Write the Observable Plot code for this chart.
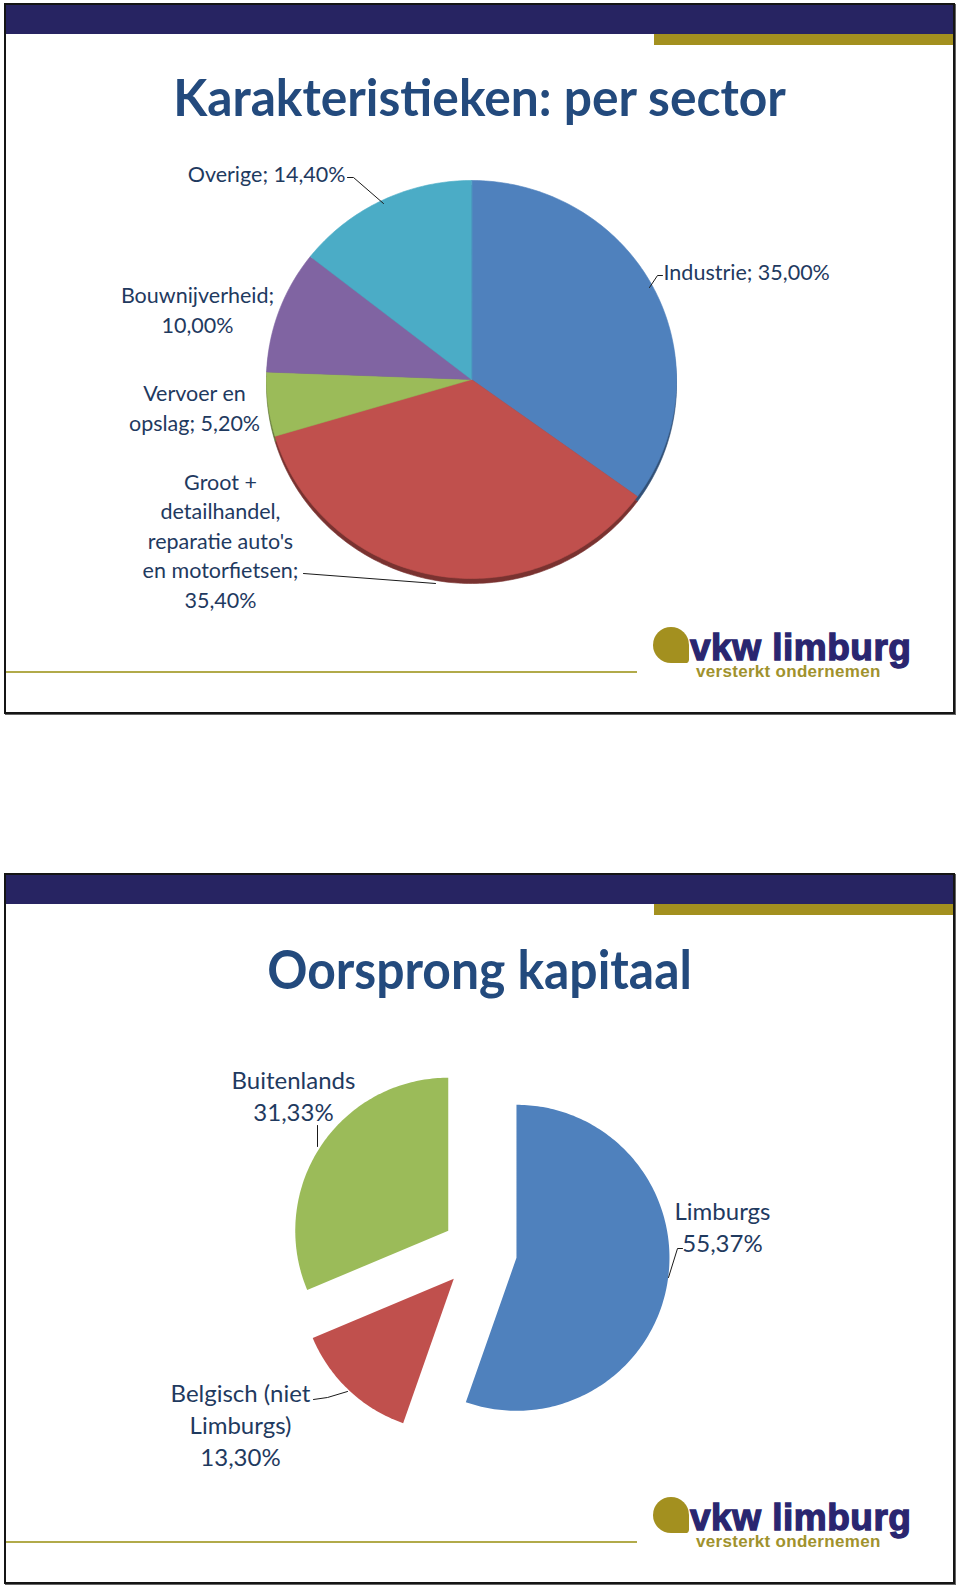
<!DOCTYPE html>
<html lang="nl">
<head>
<meta charset="utf-8">
<title>Karakteristieken: per sector / Oorsprong kapitaal</title>
<script src="https://cdn.jsdelivr.net/npm/d3@7"></script>
<script src="https://cdn.jsdelivr.net/npm/@observablehq/plot@0.6"></script>
<style>
html,body{margin:0;padding:0;background:#fff;}
#page{position:relative;width:960px;height:1589px;overflow:hidden;}
.slide{position:absolute;left:4px;width:951px;height:711px;border:2px solid #151515;box-sizing:border-box;box-shadow:1px 1px 0 #666;background:#fff;}
.band{position:absolute;left:0;top:0;width:100%;height:29px;background:#272462;}
.gold{position:absolute;left:648px;right:0;top:29px;height:11px;background:#A3901F;}
.title{position:absolute;left:0;width:100%;text-align:center;font-family:Lato,sans-serif;font-weight:700;color:#234A7D;line-height:1;white-space:nowrap;transform-origin:50% 50%;}
.rule{position:absolute;left:0;width:631px;top:666px;height:2px;background:#B1AA4A;}
.blob{position:absolute;left:647px;top:622px;width:36px;height:36px;background:#A3901F;border-radius:50% 50% 10% 50%;}
.brand{position:absolute;left:684px;top:627.7px;font-family:"Liberation Sans",Arial,sans-serif;font-weight:700;font-size:37px;line-height:0.8;color:#2A2670;letter-spacing:0.5px;-webkit-text-stroke:1.3px #2A2670;white-space:nowrap;}
.tag{position:absolute;left:690px;top:659.7px;font-family:"Liberation Sans",Arial,sans-serif;font-weight:700;font-size:17px;line-height:0.8;color:#A0922D;letter-spacing:0.3px;white-space:nowrap;}
#page svg{position:absolute;left:0;top:0;}
</style>
</head>
<body>
<div id="page">
  <div class="slide" style="top:3px">
    <div class="band"></div><div class="gold"></div>
    <div class="title" style="top:66px;font-size:51px;transform:scaleX(0.975)">Karakteristieken: per sector</div>
    <div class="rule"></div>
    <div class="blob"></div>
    <div class="brand">vkw limburg</div>
    <div class="tag">versterkt ondernemen</div>
  </div>
  <div class="slide" style="top:873px">
    <div class="band"></div><div class="gold"></div>
    <div class="title" style="top:67px;font-size:53px;transform:scaleX(0.94)">Oorsprong kapitaal</div>
    <div class="rule"></div>
    <div class="blob"></div>
    <div class="brand">vkw limburg</div>
    <div class="tag">versterkt ondernemen</div>
  </div>
</div>
<script>
// ---------------- data ----------------
const sectors = ["Industrie", "Groot + detailhandel, reparatie auto's en motorfietsen", "Vervoer en opslag", "Bouwnijverheid", "Overige"];
const sectorShares = [35.00, 35.40, 5.20, 10.00, 14.40];
const sectorLabelLines = [
  ["Industrie; 35,00%"],
  ["Groot +", "detailhandel,", "reparatie auto's", "en motorfietsen;", "35,40%"],
  ["Vervoer en", "opslag; 5,20%"],
  ["Bouwnijverheid;", "10,00%"],
  ["Overige; 14,40%"]
];

const origins = ["Limburgs", "Belgisch (niet Limburgs)", "Buitenlands"];
const originShares = [55.37, 13.30, 31.33];
const originLabelLines = [
  ["Limburgs", "55,37%"],
  ["Belgisch (niet", "Limburgs)", "13,30%"],
  ["Buitenlands", "31,33%"]
];

// ---------------- style / layout ----------------
const sectorColors = ["#4F81BD", "#C0504D", "#9BBB59", "#8064A2", "#4BACC6"];
const originColors = ["#4F81BD", "#C0504D", "#9BBB59"];
const labelColor = "#1F3A5F";

const pie1 = {id: "s", cx: 471, cy: 379, rx: 205, ry: 199, explode: 0, depth: 5};
const pie2 = {id: "o", cx: 479, cy: 1251, rx: 153, ry: 153, explode: 37.5, depth: 0};

// label placement relative to pie centre (px)
const sectorLabelLayout = [
  {anchor: "start",  dx: 192,  dy: -109, leader: [[191, -104], [186, -104], [178, -92]]},
  {anchor: "middle", dx: -251, dy: 160,  leader: [[-168, 194], [-36, 204]]},
  {anchor: "middle", dx: -277, dy: 27,   leader: null},
  {anchor: "middle", dx: -274, dy: -71,  leader: null},
  {anchor: "end",    dx: -126, dy: -207, leader: [[-124, -202], [-118, -202], [-88, -176]]}
];
const originLabelLayout = [
  {anchor: "middle", dx: 243,  dy: -26, leader: [[203, -3], [198, -3], [189, 26]]},
  {anchor: "middle", dx: -239, dy: 172, leader: [[-166, 148], [-152, 146], [-132, 140]]},
  {anchor: "middle", dx: -186, dy: -157, leader: [[-162, -126], [-162, -105]]}
];

// ---------------- geometry from data ----------------
function sliceRows(shares, colors, g, shadow) {
  const total = d3.sum(shares);
  const rows = [];
  let acc = 0;
  shares.forEach((v, i) => {
    const a0 = acc / total * 2 * Math.PI;
    acc += v;
    const a1 = acc / total * 2 * Math.PI;
    const am = (a0 + a1) / 2;
    const ox = g.cx + g.explode * Math.sin(am);
    const oy = g.cy - g.explode * Math.cos(am) + (shadow ? g.depth : 0);
    const fill = shadow ? d3.color(colors[i]).darker(1.3).formatHex() : colors[i];
    const key = g.id + (shadow ? "sh" : "") + i;
    const n = Math.max(2, Math.ceil((a1 - a0) * 180 / Math.PI));
    rows.push({key, x: ox, y: oy, fill});
    for (let j = 0; j <= n; ++j) {
      const a = a0 + (a1 - a0) * j / n;
      rows.push({key, x: ox + g.rx * Math.sin(a), y: oy - g.ry * Math.cos(a), fill});
    }
  });
  return rows;
}

function labelRows(lines, layout, g) {
  return lines.map((l, i) => ({
    text: l.join("\n"),
    anchor: layout[i].anchor,
    x: g.cx + layout[i].dx,
    y: g.cy + layout[i].dy
  }));
}

function leaderRows(layout, g) {
  const rows = [];
  layout.forEach((l, i) => {
    if (!l.leader) return;
    l.leader.forEach(([dx, dy]) => rows.push({key: g.id + i, x: g.cx + dx, y: g.cy + dy}));
  });
  return rows;
}

const shadow1 = sliceRows(sectorShares, sectorColors, pie1, true);
const slices1 = sliceRows(sectorShares, sectorColors, pie1, false);
const slices2 = sliceRows(originShares, originColors, pie2, false);
const labels1 = labelRows(sectorLabelLines, sectorLabelLayout, pie1);
const labels2 = labelRows(originLabelLines, originLabelLayout, pie2);
const leaders = leaderRows(sectorLabelLayout, pie1).concat(leaderRows(originLabelLayout, pie2));

const W = 960, H = 1589;
const textOpts = (fontSize, lineHeight, anchor) => ({
  x: "x", y: "y", text: "text", textAnchor: anchor,
  fontSize, lineHeight, fontFamily: "Lato, 'Open Sans', sans-serif", fill: labelColor
});

const chart = Plot.plot({
  width: W,
  height: H,
  margin: 0,
  x: {domain: [0, W], range: [0, W], axis: null},
  y: {domain: [0, H], range: [0, H], axis: null},
  color: {type: "identity"},
  style: {background: "transparent", overflow: "visible"},
  marks: [
    Plot.line(shadow1, {x: "x", y: "y", z: "key", fill: "fill", stroke: "fill", strokeWidth: 0.6, curve: "linear-closed"}),
    Plot.line(slices1, {x: "x", y: "y", z: "key", fill: "fill", stroke: "fill", strokeWidth: 0.6, curve: "linear-closed"}),
    Plot.line(slices2, {x: "x", y: "y", z: "key", fill: "fill", stroke: "none", curve: "linear-closed"}),
    Plot.line(leaders, {x: "x", y: "y", z: "key", stroke: "#1a1a1a", strokeWidth: 1, curve: "linear"}),
    ...["start", "middle", "end"].map(a => Plot.text(labels1.filter(d => d.anchor === a), textOpts(21.5, 1.37, a))),
    Plot.text(labels2, textOpts(24, 1.33, "middle"))
  ]
});
document.getElementById("page").appendChild(chart);
</script>
</body>
</html>
